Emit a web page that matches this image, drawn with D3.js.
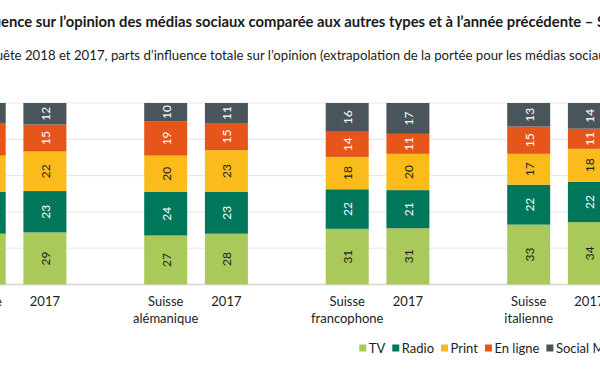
<!DOCTYPE html>
<html><head><meta charset="utf-8">
<script src="https://cdn.jsdelivr.net/npm/d3@7"></script>
<style>
html,body{margin:0;padding:0;background:#fff;}
svg{display:block;font-family:Lato,"Noto Sans",sans-serif;}
</style></head>
<body>
<svg id="chart" width="600" height="372"></svg>
<script>
const title = "Influence sur l’opinion des médias sociaux comparée aux autres types et à l’année précédente – Suisse et régions";
const titleHidden = "Influ";
const subtitle = "Enquête 2018 et 2017, parts d’influence totale sur l’opinion (extrapolation de la portée pour les médias sociaux)";
const subtitleHidden = "Enqu";

const regions = ["Suisse", "Suisse alémanique", "Suisse francophone", "Suisse italienne"];
const regionLines = [["Suisse"], ["Suisse", "alémanique"], ["Suisse", "francophone"], ["Suisse", "italienne"]];
const years = ["2018", "2017"];
const series = ["TV", "Radio", "Print", "En ligne", "Social Media"];
const colors = ["#a9c95a", "#00765a", "#fbbc1b", "#e6561a", "#4a555b"];
const labelColors = ["#222", "#fff", "#222", "#fff", "#fff"];

const TV      = [28, 29, 27, 28, 31, 31, 33, 34];
const Radio   = [23, 23, 24, 23, 22, 21, 22, 22];
const Print   = [20, 22, 20, 23, 18, 20, 17, 18];
const EnLigne = [18, 15, 19, 15, 14, 11, 15, 11];
const Social  = [11, 12, 10, 11, 16, 17, 13, 14];
const yTicks = [0, 0.2, 0.4, 0.6, 0.8, 1];

const rows = [];
regions.forEach((r, gi) => years.forEach((yr, yi) => {
  const i = gi * 2 + yi;
  rows.push({region: r, year: yr, "TV": TV[i], "Radio": Radio[i], "Print": Print[i], "En ligne": EnLigne[i], "Social Media": Social[i]});
}));

const svg = d3.select("#chart");

function measure(txt, size, weight) {
  const t = svg.append("text").attr("font-size", size).attr("font-weight", weight).text(txt);
  const w = t.node().getComputedTextLength();
  t.remove();
  return w;
}

// Title + subtitle
const tSize = 14.8, sSize = 13.2;
svg.append("text").attr("x", 1 - measure(titleHidden, tSize, "bold")).attr("y", 26.5)
  .attr("font-size", tSize).attr("font-weight", "bold").attr("fill", "#1a1a1a").text(title);
svg.append("text").attr("x", 3 - measure(subtitleHidden, sSize, "normal")).attr("y", 60)
  .attr("font-size", sSize).attr("fill", "#1a1a1a").text(subtitle);

const x0 = d3.scaleBand().domain(regions).range([-76.2, 649.8]).paddingInner(0).paddingOuter(0);
const x1 = d3.scaleBand().domain(years).range([0, x0.bandwidth()]).paddingInner(0.2916).paddingOuter(0.641);
const y = d3.scaleLinear().domain([0, 1]).range([284.5, 103]);

// grid
svg.append("g").selectAll("line").data(yTicks).join("line")
  .attr("x1", -100).attr("x2", 700)
  .attr("y1", d => y(d)).attr("y2", d => y(d))
  .attr("stroke", d => d === 0 ? "#d6d6d6" : "#e6e6e6")
  .attr("stroke-width", d => d === 0 ? 1.5 : 1);

const stack = d3.stack().keys(series).offset(d3.stackOffsetExpand);
const stacked = stack(rows);

const bx = d => x0(d.data.region) + x1(d.data.year);

const layers = svg.append("g").selectAll("g").data(stacked).join("g")
  .attr("fill", (d, i) => colors[i]);
layers.selectAll("rect").data(d => d).join("rect")
  .attr("x", bx)
  .attr("width", x1.bandwidth())
  .attr("y", d => y(d[1]))
  .attr("height", d => y(d[0]) - y(d[1]));

// labels
const lab = svg.append("g").selectAll("g").data(stacked).join("g");
lab.each(function(layer, li) {
  d3.select(this).selectAll("text").data(layer).join("text")
    .attr("transform", d => `translate(${bx(d) + x1.bandwidth() / 2 + 0.5},${(y(d[0]) + y(d[1])) / 2}) rotate(-90)`)
    .attr("text-anchor", "middle").attr("dy", "0.36em")
    .attr("font-size", 12).attr("fill", labelColors[li])
    .text(d => d.data[layer.key]);
});

// x labels
const xl = svg.append("g");
rows.forEach(r => {
  const cx = x0(r.region) + x1(r.year) + x1.bandwidth() / 2;
  const lines = r.year === "2017" ? ["2017"] : regionLines[regions.indexOf(r.region)];
  const t = xl.append("text").attr("text-anchor", "middle").attr("font-size", 13).attr("fill", "#222");
  lines.forEach((ln, k) => t.append("tspan").attr("x", cx).attr("y", 306 + k * 16.5).text(ln));
});

// legend
const leg = svg.append("g");
let lx = 359.3;
series.forEach((s, i) => {
  leg.append("rect").attr("x", lx).attr("y", 344.5).attr("width", 7).attr("height", 7).attr("fill", colors[i]);
  const t = leg.append("text").attr("x", lx + 9.5).attr("y", 352.5).attr("font-size", 13).attr("fill", "#222").text(s);
  lx += 9.5 + t.node().getComputedTextLength() + 7;
});
</script>
</body></html>
